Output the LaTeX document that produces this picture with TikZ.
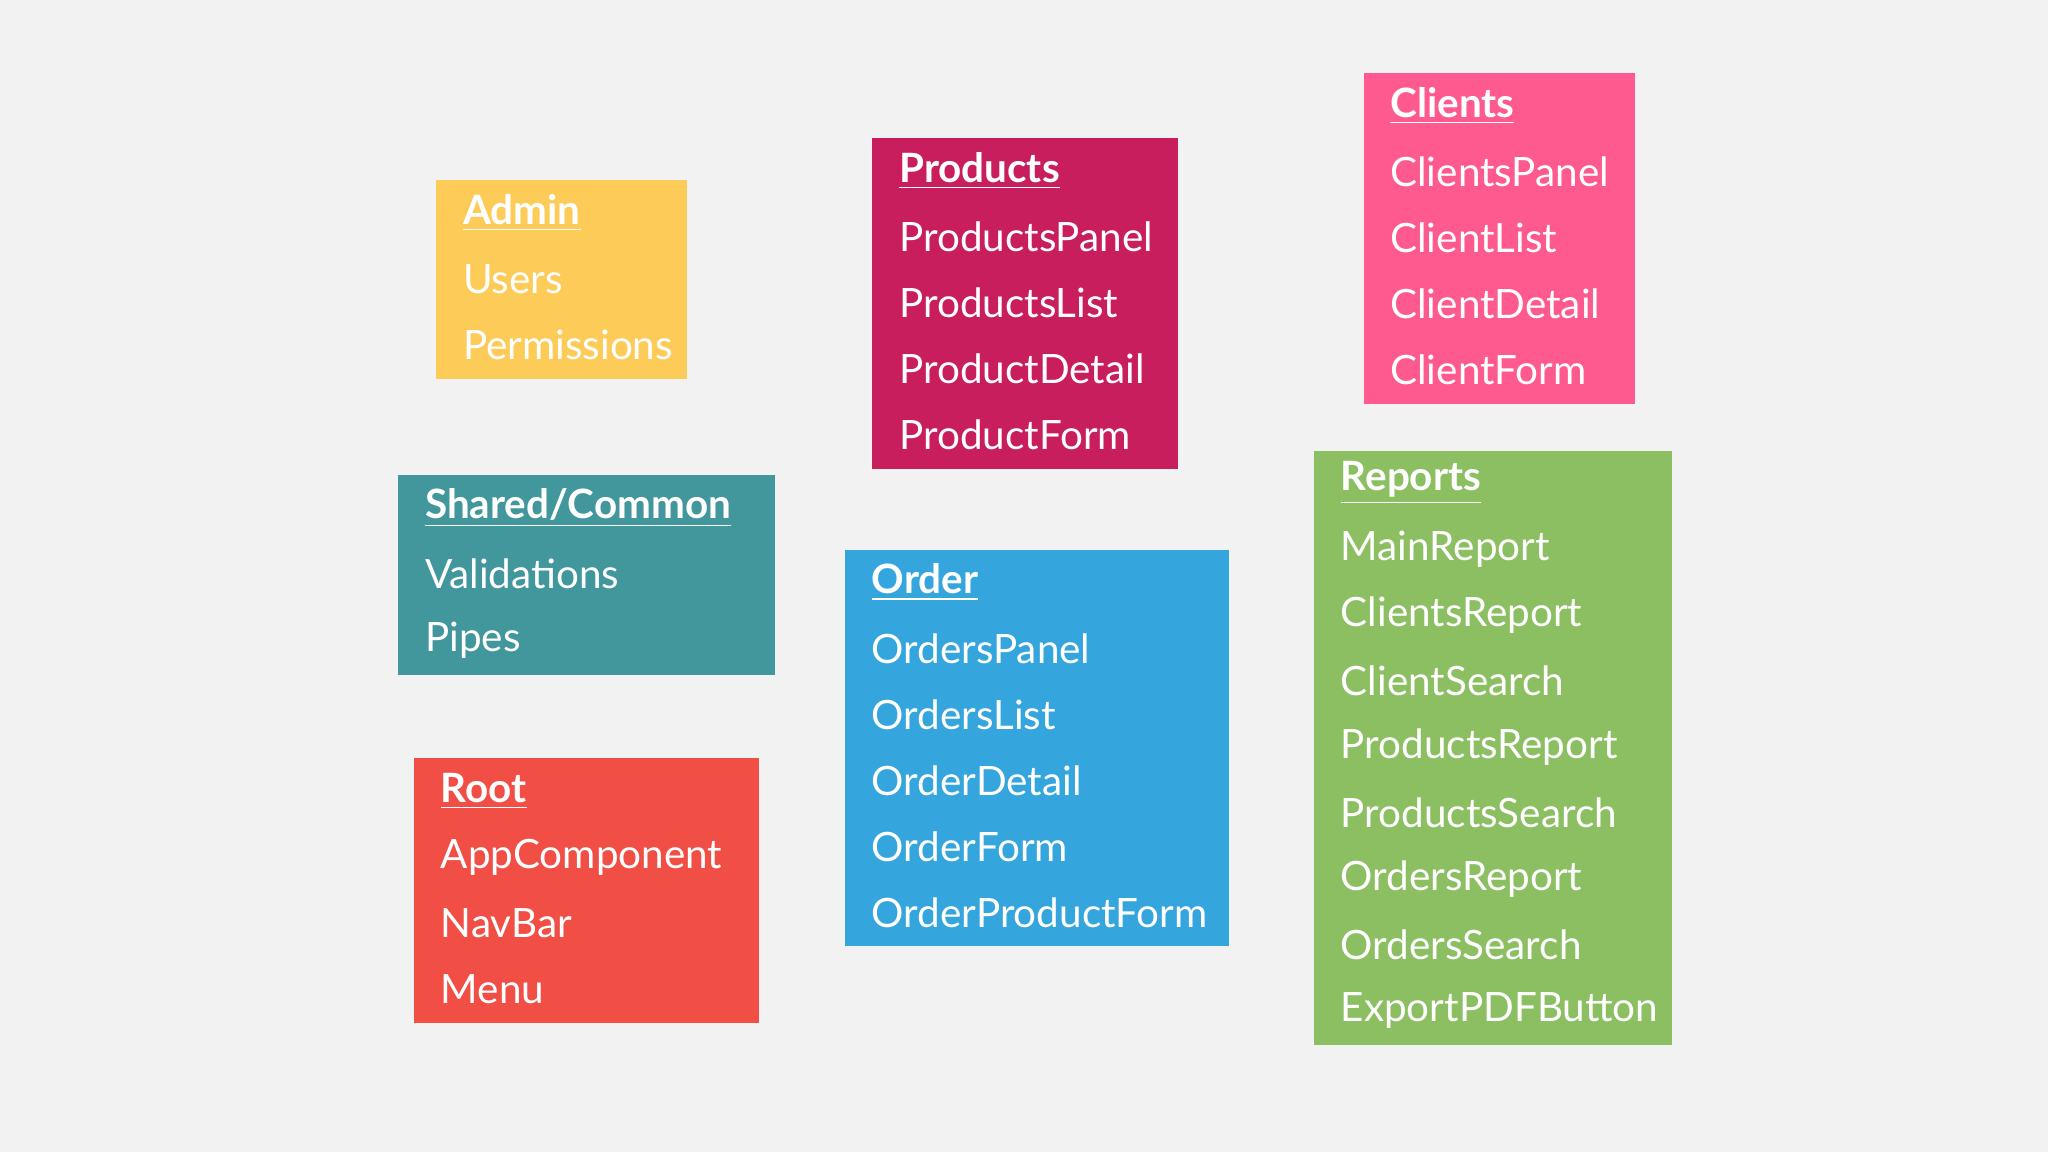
\documentclass[tikz,border=0pt]{standalone}
\usepackage{fontspec}
\setmainfont{Lato}
\definecolor{bg}{HTML}{F3F2F2}
\definecolor{admincol}{HTML}{FDCB58}
\definecolor{productscol}{HTML}{C81E5E}
\definecolor{clientscol}{HTML}{FE5A8F}
\definecolor{sharedcol}{HTML}{41979B}
\definecolor{ordercol}{HTML}{35A5DD}
\definecolor{reportscol}{HTML}{8BBF62}
\definecolor{rootcol}{HTML}{F14F46}
\tikzset{
  item/.style={anchor=west, text=white, inner sep=0pt, font=\fontsize{11.5}{13}\selectfont},
  head/.style={item, font=\fontsize{11.5}{13}\selectfont\bfseries},
}
% box: name, colour, x0, y0, x1, y1, text x, first line y, head
\newcommand{\modbox}[9]{
  \fill[#2] (#3,#4) rectangle (#5,#6);
  \node[head] (#1-h) at (#7,#8) {\underline{#9}};
}
\begin{document}
\begin{tikzpicture}[x=0.01306cm, y=-0.01306cm]
  \fill[bg] (0,0) rectangle (1568,882);
  \useasboundingbox (0,0) rectangle (1568,882);

  \modbox{admin}{admincol}{334}{138}{526}{290}{354}{163}{Admin}
  \foreach \t [count=\i] in {Users,Permissions}
    \node[item] (admin-\i) at (354,163+50.5*\i) {\t};

  \modbox{products}{productscol}{668}{106}{902}{359}{688}{131}{Products}
  \foreach \t [count=\i] in {ProductsPanel,ProductsList,ProductDetail,ProductForm}
    \node[item] (products-\i) at (688,131+50.5*\i) {\t};

  \modbox{clients}{clientscol}{1044}{56}{1252}{309}{1064}{81}{Clients}
  \foreach \t [count=\i] in {ClientsPanel,ClientList,ClientDetail,ClientForm}
    \node[item] (clients-\i) at (1064,81+50.5*\i) {\t};

  \modbox{shared}{sharedcol}{305}{364}{593}{517}{325}{389}{Shared/Common}
  \foreach \t [count=\i] in {Validations,Pipes}
    \node[item] (shared-\i) at (325,389+50.5*\i) {\t};

  \modbox{order}{ordercol}{647}{421}{941}{724}{667}{446}{Order}
  \foreach \t [count=\i] in {OrdersPanel,OrdersList,OrderDetail,OrderForm,OrderProductForm}
    \node[item] (order-\i) at (667,446+50.5*\i) {\t};

  \modbox{reports}{reportscol}{1006}{345}{1280}{800}{1026}{370}{Reports}
  \foreach \t [count=\i] in {MainReport,ClientsReport,ClientSearch,ProductsReport,ProductsSearch,OrdersReport,OrdersSearch,ExportPDFButton}
    \node[item] (reports-\i) at (1026,370+50.5*\i) {\t};

  \modbox{root}{rootcol}{317}{580}{581}{783}{337}{606}{Root}
  \foreach \t [count=\i] in {AppComponent,NavBar,Menu}
    \node[item] (root-\i) at (337,606+50.5*\i) {\t};
\end{tikzpicture}
\end{document}
